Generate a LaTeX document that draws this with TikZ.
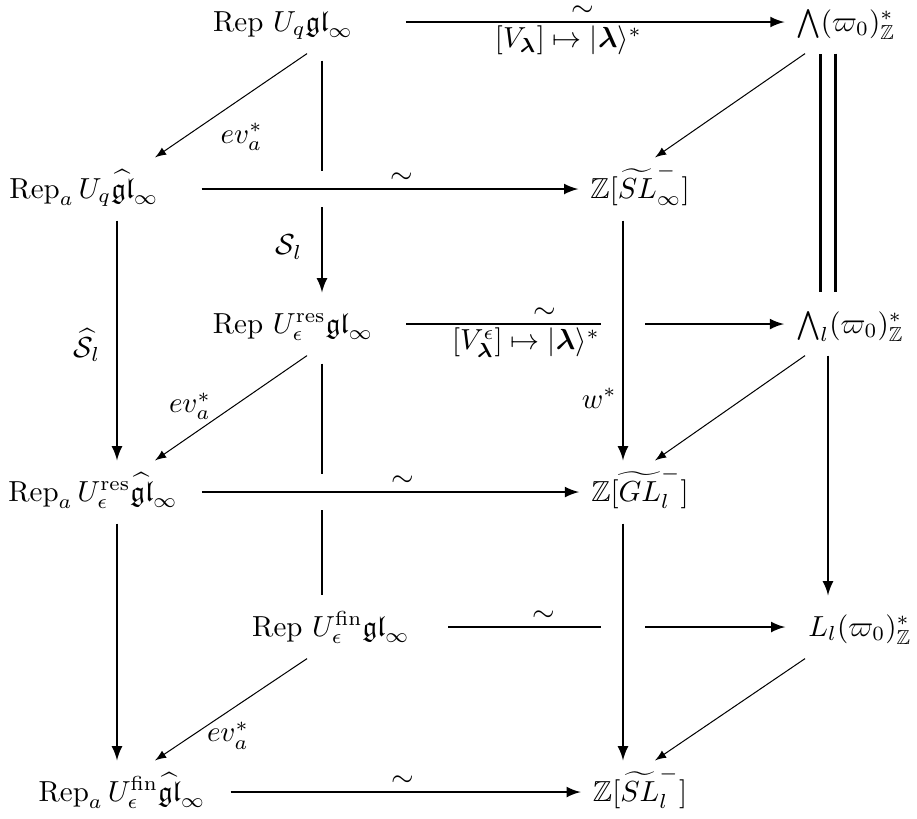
\documentclass[tikz,border=0pt]{standalone}
\usepackage{amsmath,amssymb,amsfonts}
\usetikzlibrary{calc}
\tikzset{over/.style={preaction={draw=white, line width=#1, -}}}

\begin{document}
\begin{tikzpicture}[x=0.345pt, y=-0.345pt,
  obj/.style={anchor=base, text height=10.8pt, text depth=4.6pt, inner xsep=4pt, inner ysep=3pt},
  lab/.style={inner sep=1pt},
  map/.style={line width=0.7pt, -latex},
  bar/.style={line width=0.7pt},
  diag/.style={line width=0.35pt, -latex},
  eq/.style={double, line width=0.85pt, double distance=4.35pt}]
\useasboundingbox (0,0) rectangle (917,818);

% columns of the cube
\coordinate (cA) at (117,0);
\coordinate (cB) at (322,0);
\coordinate (cC) at (623,0);
\coordinate (cD) at (828,0);

% back face
\node[obj] (bt) at (283,31) {$\mathrm{Rep}\ U_q\mathfrak{gl}_\infty$};
\node[obj] (wz) at (846,31) {$\bigwedge(\varpi_0)^*_{\mathbb{Z}}$};
\node[obj] (bm) at (293,333) {$\mathrm{Rep}\ U_\epsilon^{\mathrm{res}}\mathfrak{gl}_\infty$};
\node[obj] (wlz) at (850,333) {$\bigwedge_l(\varpi_0)^*_{\mathbb{Z}}$};
\node[obj] (bb) at (331,636) {$\mathrm{Rep}\ U_\epsilon^{\mathrm{fin}}\mathfrak{gl}_\infty$};
\node[obj] (lz) at (860,636) {$L_l(\varpi_0)^*_{\mathbb{Z}}$};

% front face
\node[obj] (ft) at (84,198) {$\mathrm{Rep}_a\,U_q\widehat{\mathfrak{gl}}_\infty$};
\node[obj] (zs) at (640,198) {$\mathbb{Z}[\widetilde{SL}^-_\infty]$};
\node[obj] (fm) at (93,501) {$\mathrm{Rep}_a\,U_\epsilon^{\mathrm{res}}\widehat{\mathfrak{gl}}_\infty$};
\node[obj] (zg) at (640,501) {$\mathbb{Z}[\widetilde{GL}^-_l]$};
\node[obj] (fb) at (122,801) {$\mathrm{Rep}_a\,U_\epsilon^{\mathrm{fin}}\widehat{\mathfrak{gl}}_\infty$};
\node[obj] (zl) at (640,801) {$\mathbb{Z}[\widetilde{SL}^-_l]$};

% back edges
\draw[map, shorten <=14.1pt] (bt) -- (wz)
  node[lab, pos=.52, above=0.5pt] {$\sim$}
  node[lab, pos=.485, below] {$[V_{\boldsymbol\lambda}]\mapsto|\boldsymbol\lambda\rangle^*$};
\draw[map, shorten <=7.2pt] (bm) -- (wlz)
  node[lab, pos=.40, above=0.5pt] {$\sim$}
  node[lab, pos=.353, below] {$[V^\epsilon_{\boldsymbol\lambda}]\mapsto|\boldsymbol\lambda\rangle^*$};
\draw[map, shorten <=9pt, shorten >=3.8pt] (bb) -- (lz) node[lab, pos=.326, above=0.5pt] {$\sim$};
\draw[map, shorten <=2.4pt] (bt.south -| cB) -- (bm.north -| cB) node[lab, pos=.81, left=5.5pt] {$\mathcal{S}_l$};
\draw[bar, shorten <=2.8pt] (bm.south -| cB) -- (bb.north -| cB);
\draw[eq] (wz.south -| cD) -- (wlz.north -| cD);
\draw[map] (wlz.south -| cD) -- (lz.north -| cD);

% slanted maps
\draw[diag] ($(bt.south -| cB)+(-15,0)$) -- ($(ft.north -| cA)+(38,0)$) node[lab, pos=.43, below=7.5pt] {$ev_a^*$};
\draw[diag] ($(bm.south -| cB)+(-15,0)$) -- ($(fm.north -| cA)+(38,0)$) node[lab, pos=.77, above=4.5pt] {$ev_a^*$};
\draw[diag] ($(bb.south -| cB)+(-15,0)$) -- ($(fb.north -| cA)+(38,0)$) node[lab, pos=.52, below=2.4pt] {$ev_a^*$};
\draw[diag] ($(wz.south -| cD)+(-23,0)$) -- ($(zs.north -| cC)+(32,0)$);
\draw[diag] ($(wlz.south -| cD)+(-23,0)$) -- ($(zg.north -| cC)+(32,0)$);
\draw[diag] ($(lz.south -| cD)+(-23,0)$) -- ($(zl.north -| cC)+(32,0)$);

% front edges
\draw[map, over=12.7pt, shorten <=10.7pt] (ft) -- (zs) node[lab, pos=.567, above=0.5pt] {$\sim$};
\draw[map, over=12.7pt, shorten <=4.1pt] (fm) -- (zg) node[lab, pos=.546, above=0.5pt] {$\sim$};
\draw[map, shorten <=4.5pt] (fb) -- (zl) node[lab, pos=.51, above=0.5pt] {$\sim$};
\draw[map] (ft.south -| cA) -- (fm.north -| cA) node[lab, pos=.52, left=4.4pt] {$\widehat{\mathcal{S}}_l$};
\draw[map] (fm.south -| cA) -- (fb.north -| cA);
\draw[map, over=15pt] (zs.south -| cC) -- (zg.north -| cC) node[lab, pos=.74, left=0.8pt] {$w^*$};
\draw[map, over=15pt] (zg.south -| cC) -- (zl.north -| cC);
\end{tikzpicture}
\end{document}
